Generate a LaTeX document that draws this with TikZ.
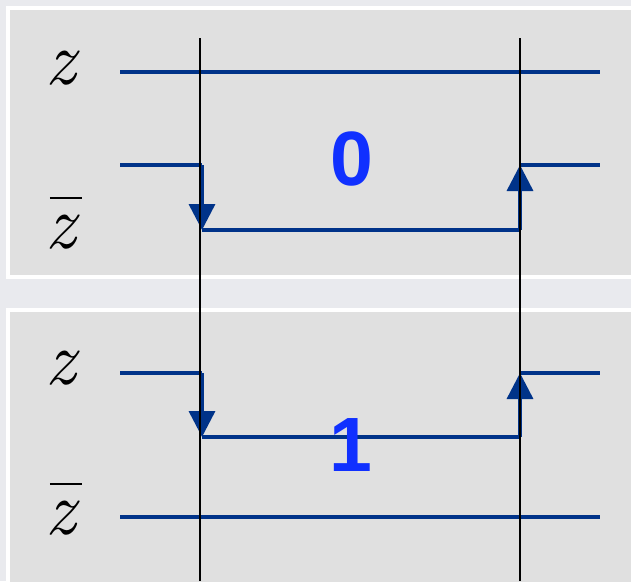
\documentclass[tikz,border=0pt]{standalone}
\usepackage{fontspec}
\newfontfamily\digitfont{Liberation Sans}
\usetikzlibrary{arrows.meta}
\definecolor{sigblue}{RGB}{0,51,137}
\definecolor{bitblue}{RGB}{16,48,255}
\definecolor{panelgray}{RGB}{224,224,224}
\definecolor{pagegray}{RGB}{233,234,238}
\tikzset{
  % Gray panel with white rim
  panel/.style={
    draw=white, line width=3.5pt, fill=panelgray
  },
  % Signal line
  sigline/.style={
    draw=sigblue, line width=3.5pt
  },
  % Signal line ending in a triangle tip
  sigarrow/.style={
    sigline, -{Triangle[width=26pt, length=26pt]}, sigblue
  },
  % Thin timing guide
  guide/.style={
    draw=black, line width=1.2pt
  },
  % Variable label
  varlabel/.style={
    anchor=base, inner sep=0pt, font=\fontsize{76}{76}\selectfont\itshape
  },
  % Big bit value
  bitlabel/.style={
    anchor=base, inner sep=0pt, text=bitblue,
    font=\fontsize{77}{77}\selectfont\digitfont\bfseries
  },
}
\newcommand{\zbar}{\rlap{\hspace{4pt}\rule[49pt]{32pt}{2.5pt}}z}

\begin{document}
\begin{tikzpicture}[x=1pt, y=-1pt]

% ── Page and panels ───────────────────────────────────────────────────────────
\fill[pagegray] (0,0) rectangle (631,581);
\useasboundingbox (0,0) rectangle (631,581);
\path[panel] (8,8) rectangle (660,277);
\path[panel] (8,310) rectangle (660,600);

% ── Panel 0 ───────────────────────────────────────────────────────────────────
\node[varlabel] (zA) at (61,84) {z};
\node[varlabel] (zbA) at (61,248) {\zbar};

\coordinate (zAl) at (120,72);
\coordinate (zAr) at (600,72);
\draw[sigline] (zAl) -- (zAr);

\coordinate (zbAl) at (120,165);
\coordinate (zbAa) at (202,165);
\coordinate (zbAb) at (202,230);
\coordinate (zbAc) at (520,230);
\coordinate (zbAd) at (520,165);
\coordinate (zbAr) at (600,165);
\draw[sigline] (zbAl) -- (zbAa);
\draw[sigarrow] (zbAa) -- (zbAb);
\draw[sigline] (zbAb) -- (zbAc);
\draw[sigarrow] (zbAc) -- (zbAd);
\draw[sigline] (zbAd) -- (zbAr);

\node[bitlabel] (bitA) at (352,185) {0};

% ── Panel 1 ───────────────────────────────────────────────────────────────────
\node[varlabel] (zB) at (61,384) {z};
\node[varlabel] (zbB) at (61,534) {\zbar};

\coordinate (zBl) at (120,373);
\coordinate (zBa) at (202,373);
\coordinate (zBb) at (202,437);
\coordinate (zBc) at (520,437);
\coordinate (zBd) at (520,373);
\coordinate (zBr) at (600,373);
\draw[sigline] (zBl) -- (zBa);
\draw[sigarrow] (zBa) -- (zBb);
\draw[sigline] (zBb) -- (zBc);
\draw[sigarrow] (zBc) -- (zBd);
\draw[sigline] (zBd) -- (zBr);

\coordinate (zbBl) at (120,517);
\coordinate (zbBr) at (600,517);
\draw[sigline] (zbBl) -- (zbBr);

\node[bitlabel] (bitB) at (351,471) {1};

% ── Timing guides ─────────────────────────────────────────────────────────────
\foreach \x in {200, 520}{
  \draw[guide] (\x,38) -- (\x,581);
}

\end{tikzpicture}
\end{document}
